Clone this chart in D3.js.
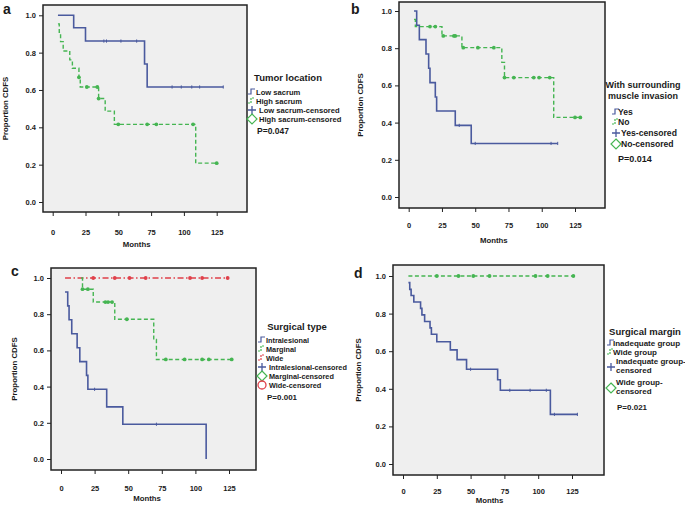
<!DOCTYPE html>
<html><head><meta charset="utf-8">
<script src="https://cdn.jsdelivr.net/npm/d3@7"></script>
<style>body{margin:0;background:#fff}svg{display:block}text{font-family:"Liberation Sans",Arial,sans-serif;font-weight:bold;fill:#1a1a1a}</style>
</head><body><svg id="c" width="685" height="506"></svg>
<script>
// ---------- data ----------
const xTicks = [0, 25, 50, 75, 100, 125];
const yTicks = [0.0, 0.2, 0.4, 0.6, 0.8, 1.0];

// Panel a: Tumor location
const aLowT = [4, 16, 25, 70, 72];
const aLowS = [1.0, 0.933, 0.862, 0.739, 0.616];
const aLowEnd = 130;
const aLowCens = [39, 41, 52, 64, 91, 98, 106, 112, 130];
const aHighT = [4, 5, 6, 8, 13, 15, 20, 21, 35, 40, 47, 109];
const aHighS = [0.954, 0.909, 0.859, 0.809, 0.761, 0.716, 0.668, 0.616, 0.554, 0.487, 0.416, 0.208];
const aHighEnd = 125;
const aHighCens = [20, 26, 34, 35, 50, 72, 79, 107, 125];

// Panel b: With surrounding muscle invasion
const bYesT = [4, 6, 8, 13, 15, 16, 20, 21, 35, 47];
const bYesS = [1.0, 0.923, 0.846, 0.769, 0.692, 0.615, 0.538, 0.462, 0.385, 0.288];
const bYesEnd = 112;
const bYesCens = [38, 50, 107, 112];
const bNoT = [4, 5, 25, 40, 70, 72, 109];
const bNoS = [0.955, 0.916, 0.866, 0.803, 0.724, 0.642, 0.428];
const bNoEnd = 129;
const bNoCens = [16, 20, 26, 34, 35, 41, 52, 64, 72, 79, 94, 98, 106, 125, 129];

// Panel c: Surgical type
const cIntraT = [3, 5, 6, 8, 12, 14, 19, 20, 34, 46, 108];
const cIntraS = [0.923, 0.846, 0.769, 0.692, 0.615, 0.538, 0.462, 0.385, 0.288, 0.192, 0.0];
const cIntraEnd = 108;
const cIntraCens = [25, 71];
const cMargT = [15, 16, 24, 40, 69, 71];
const cMargS = [1.0, 0.938, 0.867, 0.772, 0.66, 0.55];
const cMargEnd = 127;
const cMargCens = [16, 20, 33, 35, 38, 49, 78, 92, 105, 110, 127];
const cWideT = [3];
const cWideS = [1.0];
const cWideEnd = 124;
const cWideCens = [24, 40, 51, 63, 96, 105, 124];

// Panel d: Surgical margin
const dInadT = [4, 5, 6, 8, 13, 14, 16, 20, 21, 25, 35, 40, 47, 70, 72, 109];
const dInadS = [0.965, 0.929, 0.896, 0.862, 0.828, 0.793, 0.758, 0.724, 0.69, 0.65, 0.607, 0.555, 0.504, 0.448, 0.392, 0.264];
const dInadEnd = 129;
const dInadCens = [50, 79, 94, 106, 112, 129];
const dWideT = [4];
const dWideS = [1.0];
const dWideEnd = 126;
const dWideCens = [25, 41, 52, 64, 98, 107, 126];

// ---------- styles ----------
const BLUE = "#4a5a9e", GREEN = "#45b552", RED = "#e0404a";
const styles = {
  blue: {color: BLUE, dash: null, w: 1.6, cens: "tick"},
  green: {color: GREEN, dash: "4,2.5", w: 1.4, cens: "dot"},
  red: {color: RED, dash: "6,2.5,1.5,2.5", w: 1.3, cens: "dot"}
};

const panels = [
  {letter: "a", lx: 3, ly: 14, frame: [43, 247, 5, 212], xr: [52.7, 216.7], yr: [202, 15.3], tickY: 233, monthsY: 247, ylabX: 8,
   series: [
     {T: aLowT, S: aLowS, end: aLowEnd, cens: aLowCens, st: "blue"},
     {T: aHighT, S: aHighS, end: aHighEnd, cens: aHighCens, st: "green"}],
   legend: {title: ["Tumor location"], tx: 288, ty: 81, tsize: 9.5, size: 7.6, sx: 248, textX: 256,
     items: [["step", "blue", ["Low sacrum"], 95], ["step", "green", ["High sacrum"], 104],
             ["plus", "blue", ["Low sacrum-censored"], 113], ["diamond", "green", ["High sacrum-censored"], 122]],
     p: "P=0.047", px: 257, py: 134, psize: 8.5}},
  {letter: "b", lx: 351, ly: 14, frame: [399, 605, 2, 208], xr: [408.7, 575], yr: [197, 11], tickY: 226, monthsY: 243, ylabX: 363,
   series: [
     {T: bYesT, S: bYesS, end: bYesEnd, cens: bYesCens, st: "blue"},
     {T: bNoT, S: bNoS, end: bNoEnd, cens: bNoCens, st: "green"}],
   legend: {title: ["With surrounding", "muscle invasion"], tx: 643, ty: 88, tsize: 9, size: 8.6, sx: 612, textX: 618,
     items: [["step", "blue", ["Yes"], 115], ["step", "green", ["No"], 125],
             ["plus", "blue", ["Yes-censored"], 136], ["diamond", "green", ["No-censored"], 147]],
     p: "P=0.014", px: 618, py: 162, psize: 9}},
  {letter: "c", lx: 11, ly: 276, frame: [51, 256, 268, 470], xr: [61, 229], yr: [459, 278], tickY: 489, monthsY: 501, ylabX: 17,
   series: [
     {T: cWideT, S: cWideS, end: cWideEnd, cens: cWideCens, st: "red"},
     {T: cMargT, S: cMargS, end: cMargEnd, cens: cMargCens, st: "green"},
     {T: cIntraT, S: cIntraS, end: cIntraEnd, cens: cIntraCens, st: "blue"}],
   legend: {title: ["Surgical type"], tx: 297, ty: 330, tsize: 9.5, size: 7.3, sx: 258, textX: 266,
     items: [["step", "blue", ["Intralesional"], 343], ["step", "green", ["Marginal"], 352], ["step", "red", ["Wide"], 361],
             ["plus", "blue", ["Intralesional-censored"], 370], ["diamond", "green", ["Marginal-censored"], 379],
             ["circle", "red", ["Wide-censored"], 388]],
     p: "P=0.001", px: 267, py: 400, psize: 8}},
  {letter: "d", lx: 354, ly: 278, frame: [393, 604, 265, 475], xr: [403, 572], yr: [464, 276], tickY: 492, monthsY: 503, ylabX: 361,
   series: [
     {T: dWideT, S: dWideS, end: dWideEnd, cens: dWideCens, st: "green"},
     {T: dInadT, S: dInadS, end: dInadEnd, cens: dInadCens, st: "blue"}],
   legend: {title: ["Surgical margin"], tx: 645, ty: 335, tsize: 9.5, size: 8, sx: 607, textX: 613,
     items: [["step", "blue", ["Inadequate group"], 346], ["step", "green", ["Wide group"], 355],
             ["plus", "blue", ["Inadequate group-", "censored"], 364], ["diamond", "green", ["Wide group-", "censored"], 385]],
     p: "P=0.021", px: 617, py: 410, psize: 8}}
];

const svg = d3.select("#c");

function survAt(T, S, t) {
  let v = S[0];
  for (let i = 0; i < T.length; i++) if (T[i] <= t) v = S[i];
  return v;
}

panels.forEach(p => {
  const g = svg.append("g");
  const [fx0, fx1, fy0, fy1] = p.frame;
  const x = d3.scaleLinear().domain([0, 125]).range(p.xr);
  const y = d3.scaleLinear().domain([0, 1]).range(p.yr);

  g.append("rect").attr("x", fx0).attr("y", fy0).attr("width", fx1 - fx0).attr("height", fy1 - fy0)
    .attr("fill", "#efefef");

  // series
  const line = d3.line().x(d => x(d[0])).y(d => y(d[1])).curve(d3.curveStepAfter);
  p.series.forEach(s => {
    const st = styles[s.st];
    const pts = s.T.map((t, i) => [t, s.S[i]]);
    pts.push([s.end, s.S[s.S.length - 1]]);
    g.append("path").attr("d", line(pts)).attr("fill", "none").attr("stroke", st.color)
      .attr("stroke-width", st.w).attr("stroke-dasharray", st.dash);
    s.cens.forEach(t => {
      const cx = x(t), cy = y(survAt(s.T, s.S, t));
      if (st.cens === "tick") {
        g.append("line").attr("x1", cx).attr("x2", cx).attr("y1", cy - 1.6).attr("y2", cy + 1.6)
          .attr("stroke", st.color).attr("stroke-width", 1);
      } else {
        g.append("circle").attr("cx", cx).attr("cy", cy).attr("r", 1.9).attr("fill", st.color);
      }
    });
  });

  // frame
  g.append("rect").attr("x", fx0).attr("y", fy0).attr("width", fx1 - fx0).attr("height", fy1 - fy0)
    .attr("fill", "none").attr("stroke", "#222").attr("stroke-width", 1.5);

  // axes
  const ax = g.append("g").attr("transform", `translate(0,${fy1})`)
    .call(d3.axisBottom(x).tickValues(xTicks).tickFormat(d3.format("d")).tickSize(4).tickPadding(p.tickY - fy1 - 7));
  ax.select(".domain").remove();
  ax.selectAll("text").attr("font-size", 7.5).style("font-family", "Liberation Sans, Arial, sans-serif").attr("font-weight", "bold").attr("fill", "#222");
  ax.selectAll("line").attr("stroke", "#222");
  const ay = g.append("g").attr("transform", `translate(${fx0},0)`)
    .call(d3.axisLeft(y).tickValues(yTicks).tickFormat(d3.format(".1f")).tickSize(4).tickPadding(3));
  ay.select(".domain").remove();
  ay.selectAll("text").attr("font-size", 7.5).style("font-family", "Liberation Sans, Arial, sans-serif").attr("font-weight", "bold").attr("fill", "#222");
  ay.selectAll("line").attr("stroke", "#222");

  g.append("text").attr("x", (p.xr[0] + p.xr[1]) / 2 + 2).attr("y", p.monthsY).attr("text-anchor", "middle")
    .attr("font-size", 7.8).text("Months");
  g.append("text").attr("transform", `translate(${p.ylabX},${(fy0 + fy1) / 2}) rotate(-90)`)
    .attr("text-anchor", "middle").attr("font-size", 7.8).text("Proportion CDFS");
  g.append("text").attr("x", p.lx).attr("y", p.ly).attr("font-size", 14).text(p.letter);

  // legend
  const L = p.legend;
  L.title.forEach((t, i) => g.append("text").attr("x", L.tx).attr("y", L.ty + i * 10.5).attr("text-anchor", "middle")
    .attr("font-size", L.tsize).text(t));
  L.items.forEach(([kind, col, lines, yy]) => {
    const st = styles[col];
    const sx = L.sx;
    const cy = lines.length > 1 ? yy + 3 : yy - 3;
    if (kind === "step") {
      g.append("path").attr("d", `M${sx},${yy - 1}h3v-5h4`).attr("fill", "none").attr("stroke", st.color)
        .attr("stroke-width", 1.2).attr("stroke-dasharray", col === "blue" ? null : "2,1");
    } else if (kind === "plus") {
      g.append("path").attr("d", `M${sx},${cy}h8M${sx + 4},${cy - 4}v8`).attr("stroke", st.color).attr("stroke-width", 1.3);
    } else if (kind === "diamond") {
      g.append("path").attr("d", `M${sx + 4},${cy - 5}l5,5l-5,5l-5,-5z`).attr("fill", "none").attr("stroke", st.color).attr("stroke-width", 1.2);
    } else if (kind === "circle") {
      g.append("circle").attr("cx", sx + 4).attr("cy", cy).attr("r", 4).attr("fill", "none").attr("stroke", st.color).attr("stroke-width", 1.3);
    }
    lines.forEach((t, i) => g.append("text").attr("x", L.textX + (kind === "plus" || kind === "diamond" || kind === "circle" ? 3 : 0))
      .attr("y", yy + i * 8.5).attr("font-size", L.size).text(t));
  });
  g.append("text").attr("x", L.px).attr("y", L.py).attr("font-size", L.psize).text(L.p);
});
</script>
</body></html>
